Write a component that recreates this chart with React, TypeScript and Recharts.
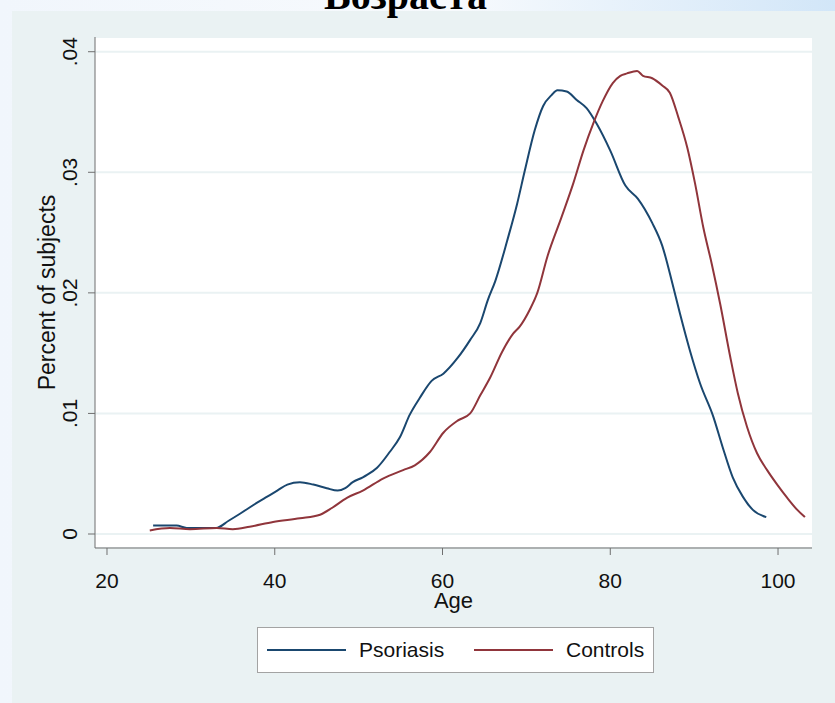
import React from "react";
import { LineChart, Line, XAxis, YAxis, CartesianGrid } from "recharts";

const seriesNames = ["Psoriasis", "Controls"];
const seriesColors = ["#1a476f", "#90353b"];

const xTicks = [20, 40, 60, 80, 100];
const yTicks = [0, 0.01, 0.02, 0.03, 0.04];
const yTickLabels = ["0", ".01", ".02", ".03", ".04"];

const psoriasisAge = [
  25.5, 28.3, 29.5, 31.0, 33.0, 34.5, 35.9, 37.9, 39.1, 40.3, 41.5, 43.0, 44.6, 46.2, 47.5, 48.4,
  49.3, 50.5, 51.0, 52.2, 53.7, 54.9, 56.1, 57.3, 58.7, 60.1, 61.8, 63.3, 64.5, 65.4, 66.3, 67.7,
  68.9, 69.8, 71.0, 72.0, 73.0, 73.7, 74.8, 76.0, 77.2, 78.4, 80.0, 81.8, 83.3, 85.0, 86.2, 87.4,
  88.3, 89.5, 90.7, 92.3, 93.4, 94.6, 95.8, 97.0, 98.6,
];
const psoriasisValue = [
  0.0007, 0.0007, 0.0005, 0.0005, 0.0005, 0.0011, 0.0017, 0.0026, 0.0031, 0.0036, 0.0041, 0.0043,
  0.0041, 0.0038, 0.0036, 0.0038, 0.0043, 0.0047, 0.0049, 0.0055, 0.0068, 0.008, 0.0099, 0.0113,
  0.0127, 0.0133, 0.0146, 0.0161, 0.0175, 0.0194, 0.021, 0.0243, 0.0274, 0.0301, 0.0335, 0.0355,
  0.0364, 0.0368, 0.0367, 0.036, 0.0353, 0.034, 0.0318, 0.0289, 0.0278, 0.0258, 0.0239, 0.0208,
  0.0183, 0.0152, 0.0125, 0.0097, 0.0072, 0.0047, 0.0031, 0.002, 0.0014,
];

const controlsAge = [
  25.1, 27.5, 29.9, 33.1, 35.0, 37.0, 39.8, 43.0, 45.4, 46.9, 48.6, 50.5, 52.9, 55.3, 56.7, 58.5,
  60.1, 61.8, 63.3, 64.5, 65.7, 67.1, 68.4, 69.2, 70.4, 71.3, 72.5, 74.2, 75.6, 76.8, 78.0, 79.1,
  80.3, 81.2, 82.0, 83.2, 83.9, 85.0, 86.2, 87.1, 88.1, 89.2, 90.1, 91.1, 92.1, 93.1, 94.3, 95.2,
  96.3, 97.5, 98.7, 99.9, 101.1, 102.3, 103.2,
];
const controlsValue = [
  0.0003, 0.0005, 0.0004, 0.0005, 0.0004, 0.0006, 0.001, 0.0013, 0.0016, 0.0022, 0.003, 0.0036,
  0.0046, 0.0053, 0.0057, 0.0068, 0.0084, 0.0094, 0.01, 0.0115, 0.013, 0.0151, 0.0166, 0.0172,
  0.0186, 0.02, 0.023, 0.0263, 0.0291, 0.0318, 0.0341, 0.0359, 0.0374, 0.038, 0.0382, 0.0384,
  0.038, 0.0378, 0.0372, 0.0366, 0.0346, 0.032, 0.0291, 0.0254, 0.0224, 0.0191, 0.0147, 0.0117,
  0.0089, 0.0067, 0.0053, 0.0041, 0.003, 0.002, 0.0014,
];

const titleText = "Возраста";
const xLabel = "Age";
const yLabel = "Percent of subjects";

const psoriasisData = psoriasisAge.map((age, i) => ({ age, value: psoriasisValue[i] }));
const controlsData = controlsAge.map((age, i) => ({ age, value: controlsValue[i] }));

const FONT = "'Liberation Sans', Arial, Helvetica, sans-serif";
const AXIS = "#6f6f6f";

const XTick = (props: any) => {
  const { x, y, payload } = props;
  return (
    <text x={x} y={y + 31} textAnchor="middle" fontFamily={FONT} fontSize={21} fill="#111">
      {payload.value}
    </text>
  );
};

const YTick = (props: any) => {
  const { x, y, payload, index } = props;
  const bx = x - 8.5;
  return (
    <text
      x={bx}
      y={y}
      transform={`rotate(-90, ${bx}, ${y})`}
      textAnchor="middle"
      fontFamily={FONT}
      fontSize={21}
      fill="#111"
    >
      {yTickLabels[yTicks.indexOf(payload.value)] ?? yTickLabels[index]}
    </text>
  );
};

const XLabelContent = (props: any) => {
  const vb = props.viewBox || {};
  return (
    <text x={vb.x + vb.width / 2} y={vb.y + 60} textAnchor="middle" fontFamily={FONT} fontSize={22} fill="#111">
      {xLabel}
    </text>
  );
};

const YLabelContent = (props: any) => {
  const vb = props.viewBox || {};
  const bx = vb.x + 20;
  const cy = vb.y + vb.height / 2;
  return (
    <text
      x={bx}
      y={cy}
      transform={`rotate(-90, ${bx}, ${cy})`}
      textAnchor="middle"
      fontFamily={FONT}
      fontSize={23}
      fill="#111"
    >
      {yLabel}
    </text>
  );
};

export default function App() {
  return (
    <div
      style={{
        position: "absolute",
        left: 0,
        top: 0,
        width: 835,
        height: 703,
        overflow: "hidden",
        background: "linear-gradient(90deg, #f1f6fc 0%, #f7fafd 55%, #d2e6f8 100%)",
      }}
    >
      <div
        style={{
          position: "absolute",
          left: 12,
          top: 11,
          width: 823,
          height: 692,
          background: "#eaf2f3",
        }}
      />
      <div style={{ position: "absolute", left: 0, top: 0 }}>
        <LineChart width={835} height={703} margin={{ top: 37, right: 23, left: 35, bottom: 115 }}>
          <CartesianGrid vertical={false} stroke="#eaf2f3" strokeWidth={2} fill="#ffffff" />
          <XAxis
            dataKey="age"
            type="number"
            domain={[18.57, 104.05]}
            ticks={xTicks}
            allowDataOverflow
            allowDuplicatedCategory={false}
            height={40}
            tickSize={7}
            axisLine={{ stroke: AXIS }}
            tickLine={{ stroke: AXIS }}
            tick={<XTick />}
            label={{ content: <XLabelContent /> } as any}
          />
          <YAxis
            dataKey="value"
            type="number"
            domain={[-0.00116, 0.04122]}
            ticks={yTicks}
            allowDataOverflow
            width={60}
            tickSize={7}
            axisLine={{ stroke: AXIS }}
            tickLine={{ stroke: AXIS }}
            tick={<YTick />}
            label={{ content: <YLabelContent /> } as any}
          />
          <Line
            data={psoriasisData}
            dataKey="value"
            name={seriesNames[0]}
            type="monotone"
            stroke={seriesColors[0]}
            strokeWidth={2}
            dot={false}
            activeDot={false}
            isAnimationActive={false}
          />
          <Line
            data={controlsData}
            dataKey="value"
            name={seriesNames[1]}
            type="monotone"
            stroke={seriesColors[1]}
            strokeWidth={2}
            dot={false}
            activeDot={false}
            isAnimationActive={false}
          />
        </LineChart>
      </div>
      <svg
        width={835}
        height={703}
        style={{ position: "absolute", left: 0, top: 0, pointerEvents: "none" }}
      >
        <text
          x={405.5}
          y={9}
          textAnchor="middle"
          fontFamily="'Liberation Serif', 'Times New Roman', serif"
          fontWeight="bold"
          fontSize={40}
          fill="#000"
        >
          {titleText}
        </text>
      </svg>
      <div
        style={{
          position: "absolute",
          left: 257,
          top: 627,
          width: 395,
          height: 44,
          background: "#fff",
          border: "1px solid #a3a3a3",
          fontFamily: FONT,
          fontSize: 21,
          color: "#111",
        }}
      >
        {seriesNames.map((name, i) => (
          <div
            key={name}
            style={{
              position: "absolute",
              left: i === 0 ? 9 : 216,
              top: 0,
              height: 44,
              display: "flex",
              alignItems: "center",
            }}
          >
            <span
              style={{
                display: "inline-block",
                width: 79,
                height: 2,
                background: seriesColors[i],
                marginRight: 13,
              }}
            />
            <span>{name}</span>
          </div>
        ))}
      </div>
    </div>
  );
}
